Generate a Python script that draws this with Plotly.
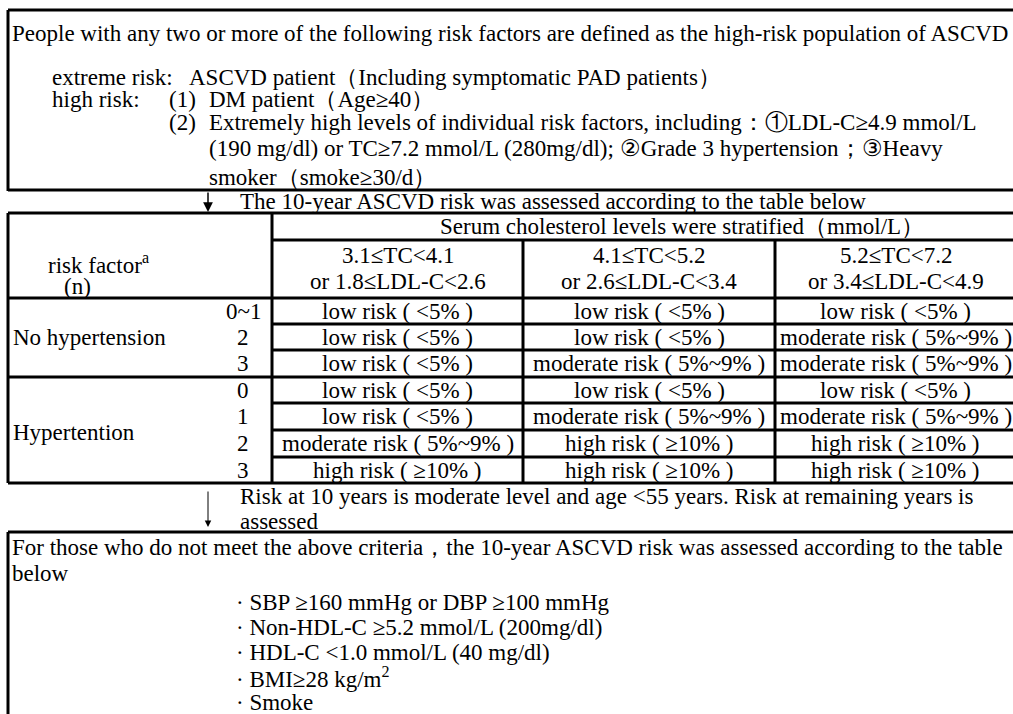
import plotly.graph_objects as go

# ---------------- content ----------------
title_line = "People with any two or more of the following risk factors are defined as the high-risk population of ASCVD"
extreme_label = "extreme risk:"
extreme_text = "ASCVD patient（Including symptomatic PAD patients）"
high_label = "high risk:"
high_nums = ["(1)", "(2)"]
high_items = [
    "DM patient（Age≥40）",
    "Extremely high levels of individual risk factors, including：①LDL-C≥4.9 mmol/L",
    "(190 mg/dl) or TC≥7.2 mmol/L (280mg/dl); ②Grade 3 hypertension；③Heavy",
    "smoker（smoke≥30/d）",
]
step1_text = "The 10-year ASCVD risk was assessed according to the table below"
col_group_header = "Serum cholesterol levels were stratified（mmol/L）"
col_headers_tc = ["3.1≤TC<4.1", "4.1≤TC<5.2", "5.2≤TC<7.2"]
col_headers_ldl = ["or 1.8≤LDL-C<2.6", "or 2.6≤LDL-C<3.4", "or 3.4≤LDL-C<4.9"]
row_header_1 = "risk factor<sup>a</sup>"
row_header_2 = "(n)"
groups = ["No hypertension", "Hypertention"]
n_labels = ["0~1", "2", "3", "0", "1", "2", "3"]
LOW = "low risk ( <5% )"
MOD = "moderate risk ( 5%~9% )"
HIGH = "high risk ( ≥10% )"
risk_col1 = [LOW, LOW, LOW, LOW, LOW, MOD, HIGH]
risk_col2 = [LOW, LOW, MOD, LOW, MOD, HIGH, HIGH]
risk_col3 = [LOW, MOD, MOD, LOW, MOD, HIGH, HIGH]
step2_lines = ["Risk at 10 years is moderate level and age <55 years. Risk at remaining years is",
               "assessed"]
bottom_lines = ["For those who do not meet the above criteria，the 10-year ASCVD risk was assessed according to the table",
                "below"]
criteria = ["· SBP ≥160 mmHg or DBP ≥100 mmHg",
            "· Non-HDL-C ≥5.2 mmol/L (200mg/dl)",
            "· HDL-C <1.0 mmol/L (40 mg/dl)",
            "· BMI≥28 kg/m<sup>2</sup>",
            "· Smoke"]

# ---------------- layout helpers ----------------
W, H = 1013, 714
FONT = "Liberation Serif, Times New Roman, serif"
FS = 23
shapes = []
ann = []

def hline(y, x0, x1, w=3):
    shapes.append(dict(type="line", x0=x0, x1=x1, y0=y, y1=y, xref="x", yref="y",
                       line=dict(color="black", width=w)))

def vline(x, y0, y1, w=3):
    shapes.append(dict(type="line", x0=x, x1=x, y0=y0, y1=y1, xref="x", yref="y",
                       line=dict(color="black", width=w)))

def text(x, y, s, anchor="left", size=FS):
    ann.append(dict(x=x, y=y, xref="x", yref="y", text=s, showarrow=False,
                    xanchor=anchor, yanchor="middle",
                    font=dict(family=FONT, size=size, color="black")))

def arrow(x, y0, y1, w=1.5):
    ann.append(dict(x=x, y=y1, ax=x, ay=y0, xref="x", yref="y", axref="x", ayref="y",
                    text="", showarrow=True, arrowhead=2, arrowsize=1.3,
                    arrowwidth=w, arrowcolor="black"))

L = 8
R = W + 5

# ---------------- top box ----------------
hline(10, L, R)
vline(L, 10, 191)
hline(190, L, R)
text(10, 33, title_line)
text(50, 77, extreme_label)
text(187, 77, extreme_text)
text(50, 99, high_label)
text(167, 99, high_nums[0])
text(167, 122, high_nums[1])
item_y = [99, 122, 148, 177]
for yy, s in zip(item_y, high_items):
    text(207, yy, s)

# ---------------- arrow + step 1 ----------------
arrow(208, 191, 212)
text(238, 201, step1_text)

# ---------------- table ----------------
top, serum_y, head_bot, bot = 213, 240, 298, 483
row_edges = [298, 324, 350, 377, 403, 430, 457, 483]
x_div = 272
col_edges = [272, 523, 775, 1016]

hline(top, L, R)
vline(L, top, bot)
vline(x_div, top, bot)
hline(serum_y, x_div, R)
hline(head_bot, L, R)
for yy in row_edges[1:-1]:
    if yy == 377:
        hline(yy, L, R)
    else:
        hline(yy, x_div, R)
hline(bot, L, R)
for xx in col_edges[1:3]:
    vline(xx, serum_y, bot)

text(682, 226, col_group_header, anchor="center")
for j in range(3):
    cx = (col_edges[j] + col_edges[j + 1]) / 2
    text(cx, 255, col_headers_tc[j], anchor="center")
    text(cx, 281, col_headers_ldl[j], anchor="center")
text(98, 263, row_header_1, anchor="center")
text(77, 286, row_header_2, anchor="center")

row_centers = [(row_edges[i] + row_edges[i + 1]) / 2 for i in range(7)]
for i, lab in enumerate(n_labels):
    text(243, row_centers[i], lab, anchor="center")
text(11, row_centers[1], groups[0])
text(11, (row_edges[4] + row_edges[6]) / 2 + 2, groups[1])
for j, col in enumerate([risk_col1, risk_col2, risk_col3]):
    cx = (col_edges[j] + col_edges[j + 1]) / 2
    for i, s in enumerate(col):
        text(cx, row_centers[i], s, anchor="center")

# ---------------- arrow + step 2 ----------------
arrow(208, 490, 527, w=1)
text(238, 496, step2_lines[0])
text(238, 521, step2_lines[1])

# ---------------- bottom box ----------------
hline(532, L, R)
vline(L, 532, H + 5)
text(10, 547, bottom_lines[0])
text(10, 573, bottom_lines[1])
for k, s in enumerate(criteria):
    text(234, 602 + k * 25, s)

fig = go.Figure()
fig.update_layout(
    width=W, height=H,
    margin=dict(l=0, r=0, t=0, b=0),
    paper_bgcolor="white", plot_bgcolor="white",
    xaxis=dict(range=[0, W], visible=False, fixedrange=True),
    yaxis=dict(range=[H, 0], visible=False, fixedrange=True),
    shapes=shapes, annotations=ann, showlegend=False,
)
fig.write_html("out.html", config={"displayModeBar": False},
               post_script="document.body.style.margin='0';document.body.style.overflow='hidden';")
